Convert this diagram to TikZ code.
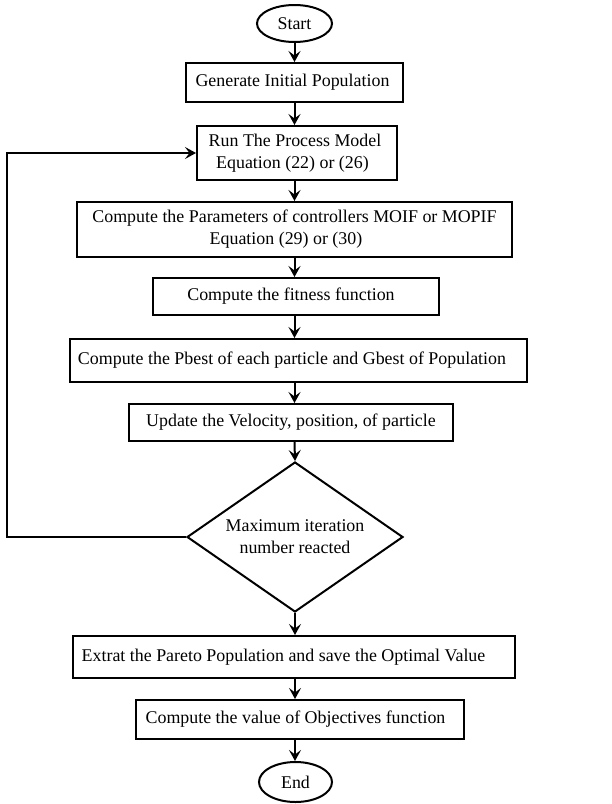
\documentclass[tikz,border=0pt]{standalone}
\usepackage{fontspec}
\setmainfont{Liberation Serif}
\usetikzlibrary{shapes.geometric,arrows.meta}
\newcommand{\lft}[2]{\hbox{#1\kern#2pt}}
\begin{document}
\begin{tikzpicture}[x=1pt,y=-1pt,
  every node/.style={font=\fontsize{17.9}{22}\selectfont, inner sep=0pt, align=center},
  procbox/.style={draw, line width=2pt, rectangle},
  term/.style={draw, line width=2pt, ellipse},
  decide/.style={draw, line width=2pt, diamond, shape aspect=1.44},
  arr/.style={line width=2pt, -{Stealth[length=11pt,width=12pt,inset=4.5pt]}}]
\useasboundingbox (0,0) rectangle (612,804);
\node[term, minimum width=75pt, minimum height=37pt] (start) at (294.5,23.5) {Start};
\node[procbox, minimum width=217pt, minimum height=39pt] (gen) at (294.5,82.5) {\lft{Generate Initial Population}{4}};
\node[procbox, minimum width=200pt, minimum height=54pt] (run) at (297,153) {\lft{Run The Process Model}{4}\\\lft{Equation (22) or (26)}{9}};
\node[procbox, minimum width=435pt, minimum height=55pt] (par) at (294.5,229.5) {Compute the Parameters of controllers MOIF or MOPIF\\\lft{Equation (29) or (30)}{17}};
\node[procbox, minimum width=286pt, minimum height=37pt] (fit) at (296,296.5) {\lft{Compute the fitness function}{10}};
\node[procbox, minimum width=457pt, minimum height=43pt] (pb) at (298.5,360.5) {\lft{Compute the Pbest of each particle and Gbest of Population}{13}};
\node[procbox, minimum width=324pt, minimum height=37pt] (upd) at (291,422.5) {Update the Velocity, position, of particle};
\node[decide, minimum width=216pt, minimum height=150pt] (dec) at (295,537) {Maximum iteration\\number reacted};
\node[procbox, minimum width=442pt, minimum height=42pt] (ext) at (294,657) {\lft{Extrat the Pareto Population and save the Optimal Value}{21}};
\node[procbox, minimum width=328pt, minimum height=39pt] (obj) at (300,719.5) {\lft{Compute the value of Objectives function}{9}};
\node[term, minimum width=73pt, minimum height=40pt] (end) at (295.5,782) {End};
\coordinate (lx) at (7,0);
\draw[arr] (start.south) -- (start.south |- gen.north);
\draw[arr] (gen.south -| start.south) -- (start.south |- run.north);
\draw[arr] (run.south -| start.south) -- (start.south |- par.north);
\draw[arr] (par.south -| start.south) -- (start.south |- fit.north);
\draw[arr] (fit.south -| start.south) -- (start.south |- pb.north);
\draw[arr] (pb.south -| start.south) -- (start.south |- upd.north);
\draw[arr] (upd.south -| start.south) -- (dec.north);
\draw[arr] (dec.south) -- (dec.south |- ext.north);
\draw[arr] (ext.south -| dec.south) -- (dec.south |- obj.north);
\draw[arr] (obj.south -| dec.south) -- (dec.south |- end.north);
\draw[arr] (dec.west) -- (dec.west -| lx) |- (run.west);
\end{tikzpicture}
\end{document}
